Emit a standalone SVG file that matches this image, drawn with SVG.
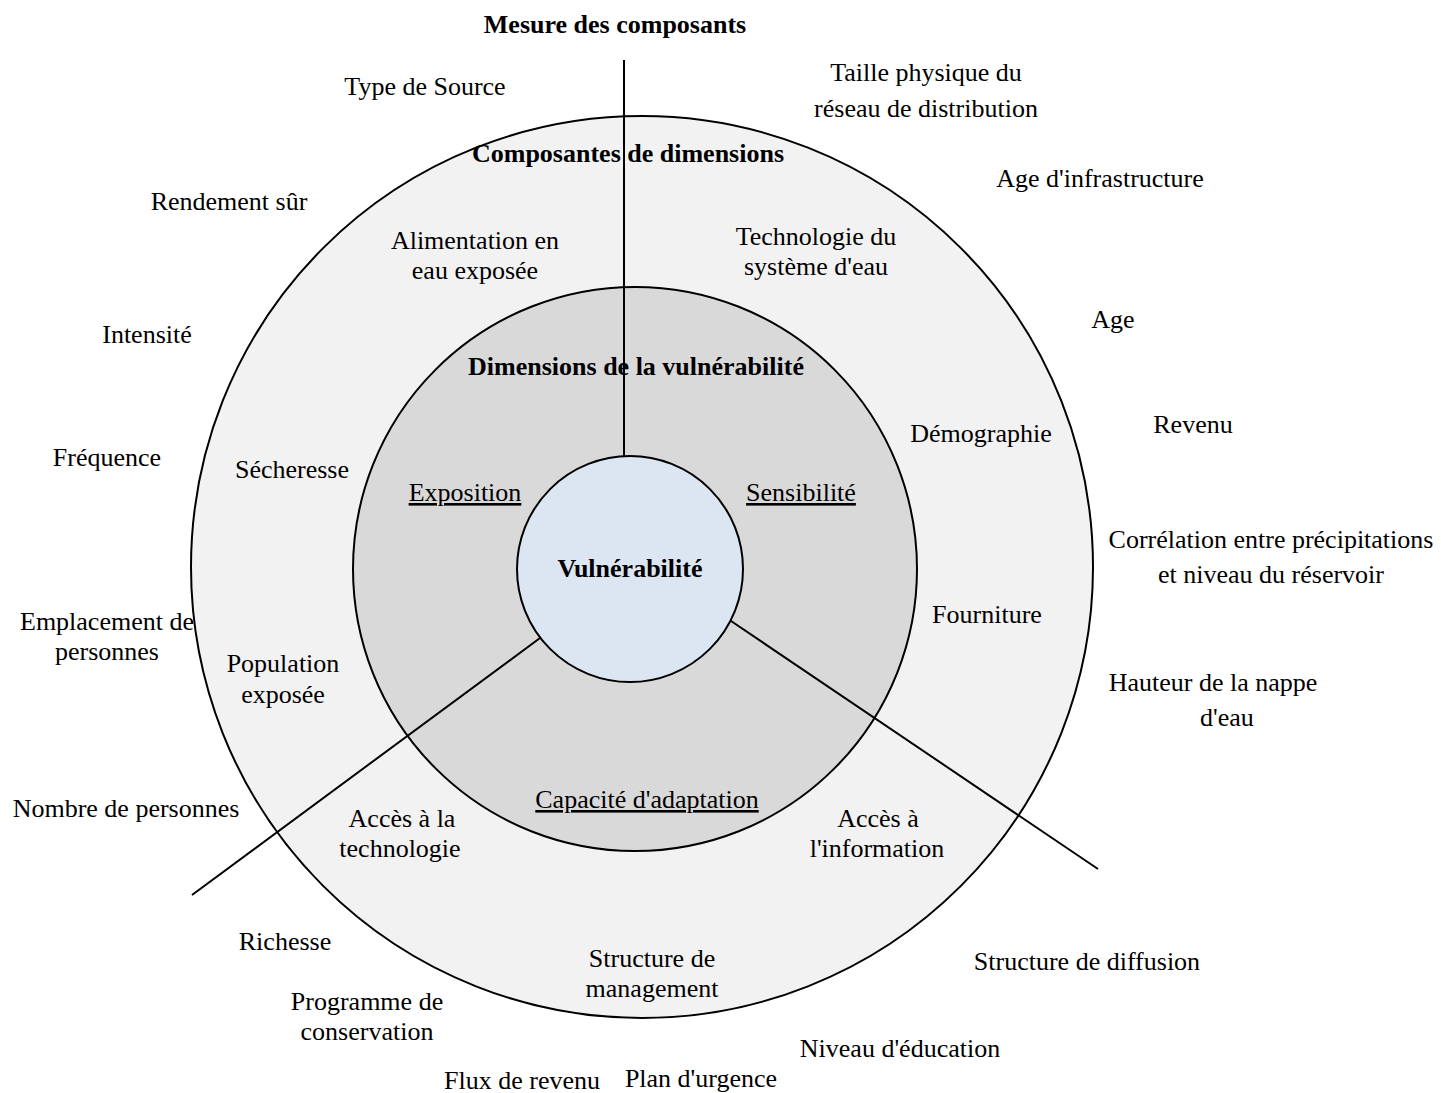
<svg xmlns="http://www.w3.org/2000/svg" width="1441" height="1093" viewBox="0 0 1441 1093">
<style>
text{font-family:"Liberation Serif","Times New Roman",serif;font-size:26px;fill:#000;text-anchor:middle}
.b{font-weight:bold}
.u{text-decoration:underline}
.ring{stroke:#000;stroke-width:2}
.conn{stroke:#000;stroke-width:2;fill:none}
</style>
<rect width="1441" height="1093" fill="#fff"/>
<g id="outer-ring"><circle class="ring" cx="642" cy="567" r="451" fill="#f2f2f2"/></g>
<g id="middle-ring"><circle class="ring" cx="635" cy="569" r="282" fill="#d9d9d9"/></g>
<g id="connectors">
<line class="conn" x1="624" y1="60" x2="624" y2="456"/>
<line class="conn" x1="540" y1="638" x2="192" y2="895"/>
<line class="conn" x1="731" y1="621" x2="1098" y2="869"/>
</g>
<g id="core"><circle class="ring" cx="630" cy="569" r="113" fill="#dce6f2"/><text class="b" x="630" y="577">Vulnérabilité</text></g>
<g id="titles">
<text class="b" x="615" y="33">Mesure des composants</text>
<text class="b" x="628" y="162">Composantes de dimensions</text>
<text class="b" x="636" y="375">Dimensions de la vulnérabilité</text>
</g>
<g id="dimensions">
<text class="u" x="465" y="501">Exposition</text>
<text class="u" x="801" y="501">Sensibilité</text>
<text class="u" x="647" y="808">Capacité d'adaptation</text>
</g>
<g id="components">
<text x="475" y="249">Alimentation en</text><text x="475" y="279">eau exposée</text>
<text x="816" y="245">Technologie du</text><text x="816" y="275">système d'eau</text>
<text x="981" y="442">Démographie</text>
<text x="292" y="478">Sécheresse</text>
<text x="987" y="623">Fourniture</text>
<text x="283" y="672">Population</text><text x="283" y="703">exposée</text>
<text x="402" y="827">Accès à la</text><text x="400" y="857">technologie</text>
<text x="878" y="827">Accès à</text><text x="877" y="857">l'information</text>
<text x="652" y="967">Structure de</text><text x="652" y="997">management</text>
</g>
<g id="measures">
<text x="425" y="95">Type de Source</text>
<text x="926" y="81">Taille physique du</text><text x="926" y="117">réseau de distribution</text>
<text x="1100" y="187">Age d'infrastructure</text>
<text x="229" y="210">Rendement sûr</text>
<text x="1113" y="328">Age</text>
<text x="147" y="343">Intensité</text>
<text x="1193" y="433">Revenu</text>
<text x="107" y="466">Fréquence</text>
<text x="1271" y="548">Corrélation entre précipitations</text><text x="1271" y="583">et niveau du réservoir</text>
<text x="107" y="630">Emplacement de</text><text x="107" y="660">personnes</text>
<text x="1213" y="691">Hauteur de la nappe</text><text x="1227" y="726">d'eau</text>
<text x="126" y="817">Nombre de personnes</text>
<text x="285" y="950">Richesse</text>
<text x="1087" y="970">Structure de diffusion</text>
<text x="367" y="1010">Programme de</text><text x="367" y="1040">conservation</text>
<text x="900" y="1057">Niveau d'éducation</text>
<text x="522" y="1089">Flux de revenu</text>
<text x="701" y="1087">Plan d'urgence</text>
</g>
</svg>
